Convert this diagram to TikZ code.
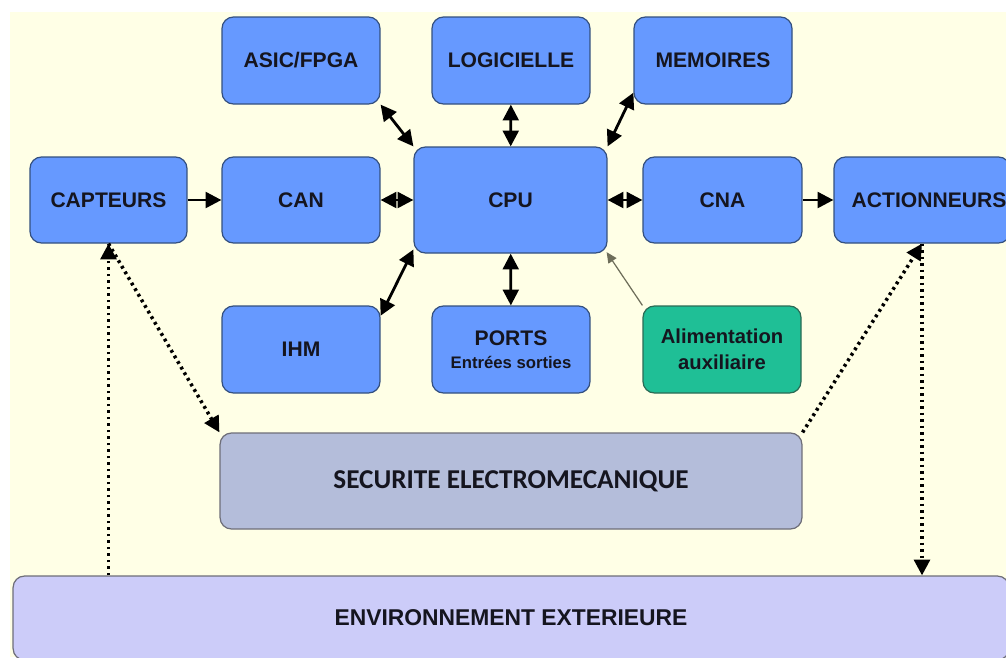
\documentclass[tikz,border=0pt]{standalone}
\usepackage{fontspec}
\setmainfont{Liberation Sans}
\newfontfamily\calibrifont{Carlito}
\usetikzlibrary{arrows.meta}
\definecolor{fondjaune}{HTML}{FFFFE6}
\definecolor{bleubloc}{HTML}{6699FF}
\definecolor{bordbleu}{HTML}{34507F}
\definecolor{vertbloc}{HTML}{1FBF96}
\definecolor{bordvert}{HTML}{2B6B55}
\definecolor{grisbloc}{HTML}{B4BDDA}
\definecolor{lilasbloc}{HTML}{CCCCF9}
\definecolor{bordgris}{HTML}{6E6E78}
\definecolor{texte}{HTML}{15151F}
\definecolor{filgris}{HTML}{6E6E5A}

\begin{document}
\begin{tikzpicture}[x=0.02cm,y=-0.02cm,
	bloc/.style={draw=bordbleu,fill=bleubloc,rounded corners=6.5pt,line width=0.7pt,
		minimum width=3.16cm,minimum height=1.74cm,inner sep=0pt,text=texte,
		font=\bfseries\fontsize{12}{14}\selectfont,align=center},
	fleche/.style={line width=1.6pt,{Triangle[length=9pt,width=9pt]}-{Triangle[length=9pt,width=9pt]}},
	simple/.style={line width=1.6pt,-{Triangle[length=9pt,width=9pt]}},
	pointille/.style={line width=2pt,dash pattern=on 1.6pt off 2.1pt,-{Triangle[length=9pt,width=9pt]}}]
		% fond
		\useasboundingbox (0,0) rectangle (1006,657);
		\fill[white] (0,0) rectangle (1006,657);
		\fill[fondjaune] (10,12) rectangle (1006,657);
		% blocs
		\node[bloc] (asic) at (301,60.5) {ASIC/FPGA};
		\node[bloc] (logiciel) at (511,60.5) {LOGICIELLE};
		\node[bloc] (memoire) at (713,60.5) {MEMOIRES};
		\node[bloc,minimum width=3.14cm,minimum height=1.72cm] (capteur) at (108.5,200) {CAPTEURS};
		\node[bloc,minimum height=1.72cm] (can) at (301,200) {CAN};
		\node[bloc,minimum width=3.86cm,minimum height=2.12cm] (cpu) at (510.5,200) {CPU};
		\node[bloc,minimum width=3.18cm,minimum height=1.72cm] (cna) at (722.5,200) {CNA};
		\node[bloc,minimum width=3.52cm,minimum height=1.72cm] (actionneur) at (922,200) {\hspace*{8pt}ACTIONNEURS};
		\node[bloc] (ihm) at (301,349.5) {IHM};
		\node[bloc] (ports) at (511,349.5) {PORTS\\[-1pt]{\fontsize{9.5}{11}\selectfont Entr\'ees sorties}};
		\node[bloc,fill=vertbloc,draw=bordvert,font=\bfseries\fontsize{11.5}{15}\selectfont] (alim) at (722,349.5) {Alimentation\\auxiliaire};
		\node[bloc,fill=grisbloc,draw=bordgris,minimum width=11.64cm,minimum height=1.92cm,
			font=\calibrifont\bfseries\fontsize{15.5}{18}\selectfont] (secu) at (511,481) {SECURITE ELECTROMECANIQUE};
		\node[bloc,fill=lilasbloc,draw=bordgris,minimum width=19.92cm,minimum height=1.68cm,
			font=\bfseries\fontsize{13}{15}\selectfont] (env) at (511,618) {ENVIRONNEMENT EXTERIEURE};
		% liaisons
		\draw[simple] (capteur) -- (can);
		\draw[fleche] (can) -- (cpu);
		\draw[fleche] (cpu) -- (cna);
		\draw[simple] (cna) -- (actionneur);
		\draw[fleche] (asic.south east) -- (cpu.north west);
		\draw[fleche] (logiciel) -- (cpu);
		\draw[fleche] (memoire.202) -- (cpu.north east);
		\draw[fleche] (ihm.23) -- (cpu.207);
		\draw[fleche] (ports) -- (cpu);
		\draw[filgris,line width=0.7pt,-{Triangle[length=6pt,width=5.5pt]},shorten >=-1pt] (alim.north west) -- (cpu.south east);
		% liaisons pointillees
		\draw[pointille] (capteur.south |- env.north) -- (capteur.south);
		\draw[pointille] (capteur.south) -- (secu.north west);
		\draw[pointille] (secu.north east) -- (actionneur.south);
		\draw[pointille] (actionneur.south) -- (actionneur.south |- env.north);
\end{tikzpicture}
\end{document}
